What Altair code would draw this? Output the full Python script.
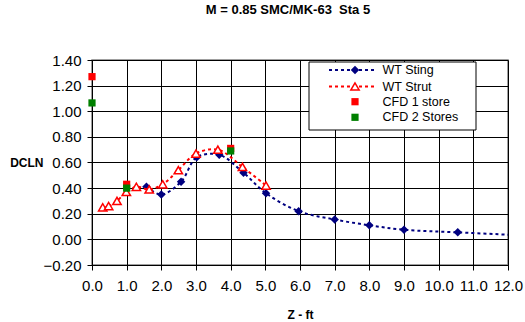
import altair as alt
import pandas as pd

# ---- data ----
sting_z = [1.57, 2.00, 2.57, 3.02, 3.67, 4.37, 5.02, 5.96, 7.00, 8.00, 9.00, 10.55, 12.50]
sting_dcln = [0.41, 0.35, 0.45, 0.64, 0.66, 0.52, 0.36, 0.22, 0.155, 0.11, 0.075, 0.055, 0.03]
strut_z = [0.31, 0.48, 0.72, 0.99, 1.28, 1.65, 2.04, 2.49, 3.00, 3.63, 4.34, 5.02]
strut_dcln = [0.25, 0.26, 0.30, 0.37, 0.41, 0.39, 0.43, 0.54, 0.67, 0.70, 0.565, 0.42]
cfd1_z = [0.0, 1.0, 4.0]
cfd1_dcln = [1.27, 0.43, 0.71]
cfd2_z = [0.0, 1.0, 4.0]
cfd2_dcln = [1.065, 0.40, 0.69]
x_ticks = [0, 1, 2, 3, 4, 5, 6, 7, 8, 9, 10, 11, 12]
y_ticks = [-0.2, 0.0, 0.2, 0.4, 0.6, 0.8, 1.0, 1.2, 1.4]
legend_labels = ["WT Sting", "WT Strut", "CFD 1 store", "CFD 2 Stores"]

NAVY = "#000080"
RED = "#FF0000"
GREEN = "#008000"
FONT = "Liberation Sans"

sting = pd.DataFrame({"z": sting_z, "dcln": sting_dcln})
strut = pd.DataFrame({"z": strut_z, "dcln": strut_dcln})
cfd1 = pd.DataFrame({"z": cfd1_z, "dcln": cfd1_dcln})
cfd2 = pd.DataFrame({"z": cfd2_z, "dcln": cfd2_dcln})

xscale = alt.Scale(domain=[0, 12], nice=False, zero=False)
yscale = alt.Scale(domain=[-0.2, 1.4], nice=False, zero=False)

xaxis = alt.Axis(values=x_ticks, format=".1f", title="Z - ft", grid=True,
                 gridColor="#000000", gridWidth=1, gridOpacity=1, domainColor="black",
                 tickColor="black", tickSize=5, labelFont=FONT, labelFontSize=15,
                 labelColor="black", labelPadding=8, labelFlush=False,
                 titleFont=FONT, titleFontSize=12, titleFontWeight="bold",
                 titleColor="black", titleY=53, titleBaseline="alphabetic")
yaxis = alt.Axis(values=y_ticks, format=".2f", title="DCLN", grid=True,
                 gridColor="#000000", gridWidth=1, gridOpacity=1, domainColor="black",
                 tickColor="black", tickSize=5, labelFont=FONT, labelFontSize=15,
                 labelColor="black", labelPadding=6, labelFlush=False,
                 titleFont=FONT, titleFontSize=12, titleFontWeight="bold",
                 titleColor="black", titleAngle=0, titleAlign="right",
                 titleBaseline="middle", titleX=-49, titleY=102)


def enc(ch):
    return ch.encode(
        x=alt.X("z:Q", scale=xscale, axis=xaxis),
        y=alt.Y("dcln:Q", scale=yscale, axis=yaxis),
    )


sting_line = enc(alt.Chart(sting).mark_line(
    color=NAVY, strokeWidth=2, strokeDash=[3, 3], interpolate="catmull-rom", clip=True))
sting_pts = enc(alt.Chart(sting).mark_point(
    shape="diamond", filled=True, size=72, color=NAVY, opacity=1, clip=True))
strut_line = enc(alt.Chart(strut).mark_line(
    color=RED, strokeWidth=2, strokeDash=[3, 3], interpolate="catmull-rom"))
strut_pts = enc(alt.Chart(strut).mark_point(
    shape="triangle-up", filled=True, fill="white", stroke=RED, strokeWidth=1.5,
    size=70, opacity=1))
cfd1_pts = enc(alt.Chart(cfd1).mark_point(
    shape="square", filled=True, size=52, color=RED, opacity=1))
cfd2_pts = enc(alt.Chart(cfd2).mark_point(
    shape="square", filled=True, size=52, color=GREEN, opacity=1))

one = pd.DataFrame({"k": [0]})
legend_layers = [
    alt.Chart(one).mark_rect(fill="white", stroke="black", strokeWidth=1).encode(
        x=alt.value(217), x2=alt.value(384), y=alt.value(2), y2=alt.value(70))
]
rows_y = [10, 26.5, 41.7, 57.3]
legend_styles = [
    dict(line=NAVY, shape="diamond", fill=NAVY, stroke=NAVY, size=72),
    dict(line=RED, shape="triangle-up", fill="white", stroke=RED, size=70),
    dict(line=None, shape="square", fill=RED, stroke=RED, size=52),
    dict(line=None, shape="square", fill=GREEN, stroke=GREEN, size=52),
]
for label, ry, st in zip(legend_labels, rows_y, legend_styles):
    if st["line"]:
        legend_layers.append(alt.Chart(one).mark_rule(
            color=st["line"], strokeWidth=2, strokeDash=[3, 3]).encode(
            x=alt.value(237), x2=alt.value(285), y=alt.value(ry)))
    legend_layers.append(alt.Chart(one).mark_point(
        shape=st["shape"], filled=True, fill=st["fill"], stroke=st["stroke"],
        strokeWidth=1.5 if st["fill"] == "white" else 0, size=st["size"], opacity=1).encode(
        x=alt.value(263), y=alt.value(ry)))
    legend_layers.append(alt.Chart(one).mark_text(
        align="left", baseline="middle", font=FONT, fontSize=12.5, color="black").encode(
        x=alt.value(290.5), y=alt.value(ry), text=alt.value(label)))

chart = alt.layer(
    sting_line, sting_pts, strut_line, strut_pts, cfd1_pts, cfd2_pts, *legend_layers
).properties(
    width=416, height=205,
    autosize=alt.AutoSizeParams(type="none"),
    padding={"left": 92, "top": 60, "right": 17, "bottom": 57},
    title=alt.TitleParams("M = 0.85 SMC/MK-63 \u00a0Sta 5", font=FONT, fontSize=13,
                          fontWeight="bold", color="black", anchor="middle",
                          dx=-12, offset=26, baseline="alphabetic"),
    background="white",
).configure_view(stroke="#808080", strokeWidth=1.5)

chart.save("out.html", embed_options={"renderer": "svg", "actions": False})
